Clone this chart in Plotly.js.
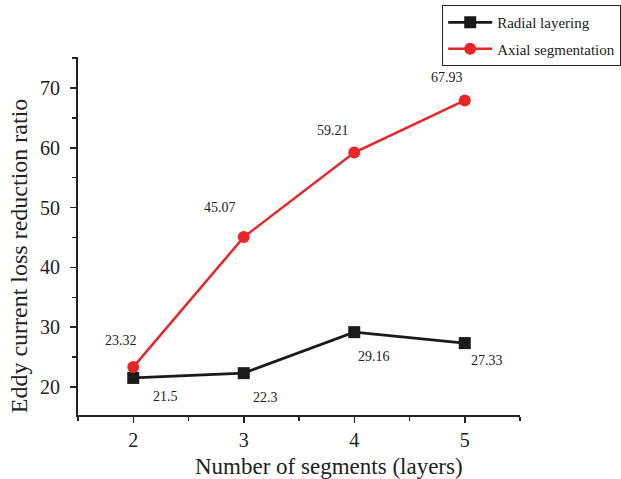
<!DOCTYPE html>
<html>
<head>
<meta charset="utf-8">
<script src="https://cdn.plot.ly/plotly-3.0.1.min.js"></script>
<style>html,body{margin:0;padding:0;background:#fff;}#chart{width:621px;height:479px;}</style>
</head>
<body>
<div id="chart"></div>
<script>
const segments = [2, 3, 4, 5];
const radialLayering = [21.5, 22.3, 29.16, 27.33];
const axialSegmentation = [23.32, 45.07, 59.21, 67.93];
const radialLabels = ["21.5", "22.3", "29.16", "27.33"];
const axialLabels = ["23.32", "45.07", "59.21", "67.93"];
const xTitle = "Number of segments (layers)";
const yTitle = "Eddy current loss reduction ratio";

const FONT = "Liberation Serif, Times New Roman, serif";
const radialShift = [[32, -19], [22, -24], [20, -24], [22, -17]];
const axialShift = [[-12, 27], [-24, 30], [-21, 22], [-18, 23]];

const traces = [
  {
    x: segments, y: radialLayering, name: "Radial layering", type: "scatter", mode: "lines+markers",
    legendgroup: "a",
    line: {color: "#1a1a1a", width: 2.8},
    marker: {symbol: "square", size: 12, color: "#1a1a1a"}
  },
  {
    x: segments, y: axialSegmentation, name: "Axial segmentation", type: "scatter", mode: "lines+markers",
    legendgroup: "b",
    line: {color: "#e8262a", width: 2.5},
    marker: {symbol: "circle", size: 12, color: "#e8262a"}
  }
];

const annotations = [];
segments.forEach((s, i) => {
  annotations.push({x: s, y: radialLayering[i], xref: "x", yref: "y", text: radialLabels[i], showarrow: false,
    xshift: radialShift[i][0], yshift: radialShift[i][1], font: {family: FONT, size: 14, color: "#222"}});
  annotations.push({x: s, y: axialSegmentation[i], xref: "x", yref: "y", text: axialLabels[i], showarrow: false,
    xshift: axialShift[i][0], yshift: axialShift[i][1], font: {family: FONT, size: 14, color: "#222"}});
});
// axis titles (placed as annotations to match the reference's off-centre positions)
annotations.push({xref: "paper", yref: "paper", x: 0.568, y: -0.143, xanchor: "center", yanchor: "middle",
  text: xTitle, showarrow: false, font: {family: FONT, size: 23, color: "#222"}});
annotations.push({xref: "paper", yref: "paper", x: -0.134, y: 0.4455, xanchor: "center", yanchor: "middle",
  textangle: -90, text: yTitle, showarrow: false, font: {family: FONT, size: 24, color: "#222"}});

const layout = {
  width: 621, height: 479,
  margin: {l: 78, r: 101, t: 57, b: 64, autoexpand: false},
  paper_bgcolor: "#fff", plot_bgcolor: "#fff",
  font: {family: FONT, color: "#222"},
  showlegend: true,
  legend: {
    x: 0.824, y: 1.145, xanchor: "left", yanchor: "top",
    bordercolor: "#222", borderwidth: 1, bgcolor: "#fff",
    font: {family: FONT, size: 15, color: "#222"},
    traceorder: "grouped", tracegroupgap: 4, itemwidth: 44
  },
  xaxis: {
    range: [1.5, 5.5], tickvals: segments, ticktext: segments.map(String),
    showgrid: false, zeroline: false, showline: true, linecolor: "#222", linewidth: 2,
    ticks: "outside", ticklen: 6, tickwidth: 1.5, tickcolor: "#222",
    minor: {tickvals: [1.5, 2.5, 3.5, 4.5, 5.5], ticks: "outside", ticklen: 4, tickwidth: 1.5, tickcolor: "#222"},
    tickfont: {family: FONT, size: 20, color: "#222"}
  },
  yaxis: {
    range: [15.3, 75.2], tickvals: [20, 30, 40, 50, 60, 70],
    showgrid: false, zeroline: false, showline: true, linecolor: "#222", linewidth: 2,
    ticks: "outside", ticklen: 6, tickwidth: 1.5, tickcolor: "#222",
    minor: {tickvals: [25, 35, 45, 55, 65, 75], ticks: "outside", ticklen: 4, tickwidth: 1.5, tickcolor: "#222"},
    tickfont: {family: FONT, size: 20, color: "#222"},
    ticklabelstandoff: 6
  },
  annotations: annotations
};

Plotly.newPlot("chart", traces, layout, {displayModeBar: false, staticPlot: true});
</script>
</body>
</html>
